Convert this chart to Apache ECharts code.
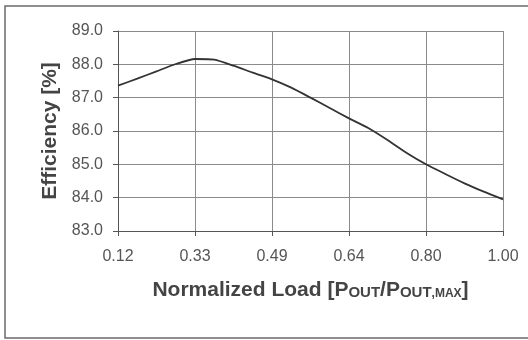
<!DOCTYPE html>
<html>
<head>
<meta charset="utf-8">
<script src="https://cdn.jsdelivr.net/npm/echarts@6/dist/echarts.min.js"></script>
<style>html,body{margin:0;padding:0;background:#fff}#c{width:528px;height:340px}</style>
</head>
<body>
<div id="c"></div>
<script>
// Category axis: labelled loads, with unlabelled sample points between them
var categories = ['0.12','0.17','0.22','0.28','0.33','0.37','0.41','0.45','0.49','0.53','0.56','0.60','0.64','0.68','0.72','0.76','0.80','0.85','0.90','0.95','1.00'];
var efficiency = [87.36,87.57,87.79,88.01,88.16,88.14,87.96,87.75,87.55,87.30,87.00,86.69,86.38,86.09,85.73,85.34,85.00,84.71,84.43,84.18,83.95];
var yTicks = [83, 84, 85, 86, 87, 88, 89];

var chart = echarts.init(document.getElementById('c'), null, {renderer: 'canvas'});
var font = 'Liberation Sans, Arial, sans-serif';
chart.setOption({
  animation: false,
  backgroundColor: '#fff',
  grid: {left: 118, right: 25, top: 31, bottom: 109},
  graphic: [{
    type: 'rect', shape: {x: 5, y: 6, width: 540, height: 332},
    style: {fill: 'none', stroke: '#6a6a6a', lineWidth: 1.5}, silent: true
  }],
  xAxis: {
    type: 'category',
    data: categories,
    boundaryGap: false,
    axisLine: {lineStyle: {color: '#555', width: 1}},
    axisTick: {show: true, interval: 3, length: 5, lineStyle: {color: '#555'}},
    axisLabel: {interval: 3, margin: 18, fontSize: 16, color: '#555', fontFamily: font},
    splitLine: {show: true, interval: 3, lineStyle: {color: '#8a8a8a', width: 1}},
    name: '{b|Normalized Load [P}{s|OUT}{b|/P}{s|OUT}{t|,MAX}{b|]}',
    nameLocation: 'middle',
    nameGap: 46,
    nameTextStyle: {
      rich: {
        b: {fontSize: 21, fontWeight: 'bold', color: '#444', fontFamily: font, verticalAlign: 'bottom', lineHeight: 24},
        s: {fontSize: 15, fontWeight: 'bold', color: '#444', fontFamily: font, verticalAlign: 'bottom', lineHeight: 24, padding: [0,0,1,0]},
        t: {fontSize: 12, fontWeight: 'bold', color: '#444', fontFamily: font, verticalAlign: 'bottom', lineHeight: 24, padding: [0,0,1,0]}
      }
    }
  },
  yAxis: {
    type: 'value',
    min: yTicks[0], max: yTicks[yTicks.length - 1], interval: 1,
    axisLine: {show: true, lineStyle: {color: '#555', width: 1}},
    axisTick: {show: true, length: 5, lineStyle: {color: '#555'}},
    axisLabel: {margin: 15, fontSize: 16, color: '#555', fontFamily: font,
      formatter: function (v) { return v.toFixed(1); }},
    splitLine: {show: true, lineStyle: {color: '#8a8a8a', width: 1}},
    name: 'Efficiency [%]',
    nameLocation: 'middle',
    nameGap: 57,
    nameTextStyle: {fontSize: 21, fontWeight: 'bold', color: '#444', fontFamily: font}
  },
  series: [{
    type: 'line',
    data: efficiency,
    showSymbol: false,
    smooth: 0.2,
    lineStyle: {color: '#333', width: 1.8}
  }]
});
</script>
</body>
</html>
